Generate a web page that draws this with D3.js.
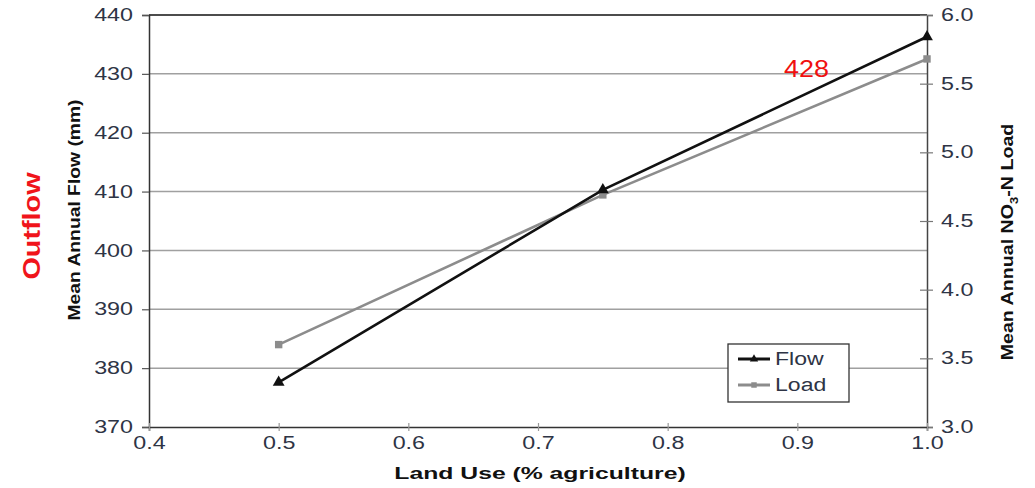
<!DOCTYPE html>
<html>
<head>
<meta charset="utf-8">
<script src="https://cdn.jsdelivr.net/npm/d3@7"></script>
<style>
  body { margin: 0; background: #fff; }
  svg { display: block; font-family: "Liberation Sans", Arial, sans-serif; }
</style>
</head>
<body>
<svg id="chart" width="1035" height="488"></svg>
<script>
// Land use (fraction agriculture) and the two responses
const landUse = [0.5, 0.75, 1.0];
const flowValues = [377.6, 410.3, 436.3];   // mm
const loadValues = [3.60, 4.69, 5.68];      // NO3-N load

const xTicks = [0.4, 0.5, 0.6, 0.7, 0.8, 0.9, 1.0];
const flowTicks = [370, 380, 390, 400, 410, 420, 430, 440];
const loadTicks = [3.0, 3.5, 4.0, 4.5, 5.0, 5.5, 6.0];

const seriesNames = ["Flow", "Load"];
const annotationText = "428";
const outflowText = "Outflow";

const svg = d3.select("#chart");
const plotLeft = 149, plotRight = 927, plotTop = 15, plotBottom = 427;

const x = d3.scaleLinear().domain([0.4, 1.0]).range([plotLeft, plotRight]);
const yFlow = d3.scaleLinear().domain([370, 440]).range([plotBottom, plotTop]);
const yLoad = d3.scaleLinear().domain([3.0, 6.0]).range([plotBottom, plotTop]);

const tickColor = "#2e3445";
const wide = 1.33;   // the typeface is set slightly extended

// widen text horizontally by a factor
function stretch(sel, factor) {
  sel.each(function () {
    const len = this.getComputedTextLength();
    d3.select(this).attr("textLength", len * factor).attr("lengthAdjust", "spacingAndGlyphs");
  });
}

// horizontal grid at flow ticks
svg.append("g")
  .selectAll("line")
  .data(flowTicks.filter(d => d > 370 && d < 440))
  .join("line")
  .attr("x1", plotLeft).attr("x2", plotRight)
  .attr("y1", d => yFlow(d)).attr("y2", d => yFlow(d))
  .attr("stroke", "#a0a0a0").attr("stroke-width", 1.5);

// top border
svg.append("line")
  .attr("x1", plotLeft).attr("x2", plotRight).attr("y1", plotTop).attr("y2", plotTop)
  .attr("stroke", "#111").attr("stroke-width", 1.5);

// left axis
const gl = svg.append("g").attr("transform", `translate(${plotLeft},0)`)
  .call(d3.axisLeft(yFlow).tickValues(flowTicks).tickSize(7).tickPadding(9).tickFormat(d3.format("d")));
gl.select(".domain").attr("stroke", "#333").attr("stroke-width", 1.5);
gl.selectAll(".tick line").attr("stroke", "#555").attr("stroke-width", 1.2);
gl.selectAll(".tick text").attr("font-size", 17.5).attr("fill", tickColor)
  .attr("font-family", "Liberation Sans, Arial, sans-serif");
stretch(gl.selectAll(".tick text"), wide);

// right axis (crossing ticks)
const gr = svg.append("g").attr("transform", `translate(${plotRight},0)`)
  .call(d3.axisRight(yLoad).tickValues(loadTicks).tickSize(6).tickPadding(8).tickFormat(d3.format(".1f")));
gr.select(".domain").attr("stroke", "#444").attr("stroke-width", 1.5);
gr.selectAll(".tick line").attr("x1", -7).attr("stroke", "#777").attr("stroke-width", 1.2);
gr.selectAll(".tick text").attr("font-size", 17.5).attr("fill", tickColor)
  .attr("font-family", "Liberation Sans, Arial, sans-serif");
stretch(gr.selectAll(".tick text"), wide);

// bottom axis
const gb = svg.append("g").attr("transform", `translate(0,${plotBottom})`)
  .call(d3.axisBottom(x).tickValues(xTicks).tickSize(4).tickPadding(6).tickFormat(d3.format(".1f")));
gb.select(".domain").attr("stroke", "#333").attr("stroke-width", 1.5);
gb.selectAll(".tick line").attr("y1", -4).attr("y2", 4).attr("stroke", "#999").attr("stroke-width", 1.2);
gb.selectAll(".tick text").attr("font-size", 17.5).attr("fill", tickColor)
  .attr("font-family", "Liberation Sans, Arial, sans-serif");
stretch(gb.selectAll(".tick text"), wide);

// series
const flowData = landUse.map((v, i) => [v, flowValues[i]]);
const loadData = landUse.map((v, i) => [v, loadValues[i]]);

const loadColor = "#8c8c8c", flowColor = "#111";

svg.append("path")
  .datum(loadData)
  .attr("d", d3.line().x(d => x(d[0])).y(d => yLoad(d[1])))
  .attr("fill", "none").attr("stroke", loadColor).attr("stroke-width", 2.6);

svg.append("g").selectAll("path")
  .data(loadData).join("path")
  .attr("transform", d => `translate(${x(d[0])},${yLoad(d[1])})`)
  .attr("d", d3.symbol(d3.symbolSquare, 55))
  .attr("fill", loadColor);

svg.append("path")
  .datum(flowData)
  .attr("d", d3.line().x(d => x(d[0])).y(d => yFlow(d[1])))
  .attr("fill", "none").attr("stroke", flowColor).attr("stroke-width", 2.6);

svg.append("g").selectAll("path")
  .data(flowData).join("path")
  .attr("transform", d => `translate(${x(d[0])},${yFlow(d[1])})`)
  .attr("d", d3.symbol(d3.symbolTriangle, 60))
  .attr("fill", flowColor);

// legend
const lg = svg.append("g").attr("transform", "translate(728,344)");
lg.append("rect").attr("width", 121).attr("height", 58)
  .attr("fill", "#fff").attr("stroke", "#333").attr("stroke-width", 1.3);
const legendColors = [flowColor, loadColor];
seriesNames.forEach((name, i) => {
  const yy = 15 + i * 26;
  lg.append("line").attr("x1", 10).attr("x2", 42).attr("y1", yy).attr("y2", yy)
    .attr("stroke", legendColors[i]).attr("stroke-width", 3);
  lg.append("path")
    .attr("transform", `translate(26,${yy})`)
    .attr("d", d3.symbol(i === 0 ? d3.symbolTriangle : d3.symbolSquare, 30))
    .attr("fill", legendColors[i]);
  const t = lg.append("text").attr("x", 47).attr("y", yy + 6)
    .attr("font-size", 18).attr("fill", tickColor).text(name);
  stretch(t, 1.28);
});

// axis titles
svg.append("text")
  .attr("transform", `translate(80,210) rotate(-90) scale(1.17,1)`)
  .attr("text-anchor", "middle").attr("font-size", 16.5).attr("font-weight", "bold")
  .attr("fill", "#111").text("Mean Annual Flow (mm)");

const rt = svg.append("text")
  .attr("transform", `translate(1013,242) rotate(-90) scale(1.19,1)`)
  .attr("text-anchor", "middle").attr("font-size", 16.5).attr("font-weight", "bold")
  .attr("fill", "#111");
rt.append("tspan").text("Mean Annual NO");
rt.append("tspan").attr("dy", 5).attr("font-size", 11).text("3");
rt.append("tspan").attr("dy", -5).text("-N Load");

svg.append("text")
  .attr("transform", `translate(540,479) scale(1.5,1)`)
  .attr("text-anchor", "middle").attr("font-size", 16.5).attr("font-weight", "bold")
  .attr("fill", "#111").text("Land Use (% agriculture)");

// annotations
const ann = svg.append("text")
  .attr("x", 784).attr("y", 77)
  .attr("font-size", 24).attr("fill", "#f01010")
  .attr("font-family", "Liberation Sans, Arial, sans-serif")
  .text(annotationText);
ann.attr("textLength", 45).attr("lengthAdjust", "spacingAndGlyphs");

svg.append("text")
  .attr("transform", "translate(40,226) rotate(-90)")
  .attr("text-anchor", "middle").attr("font-size", 24).attr("font-weight", "bold")
  .attr("fill", "#f0141b")
  .attr("textLength", 107).attr("lengthAdjust", "spacingAndGlyphs")
  .text(outflowText);
</script>
</body>
</html>
